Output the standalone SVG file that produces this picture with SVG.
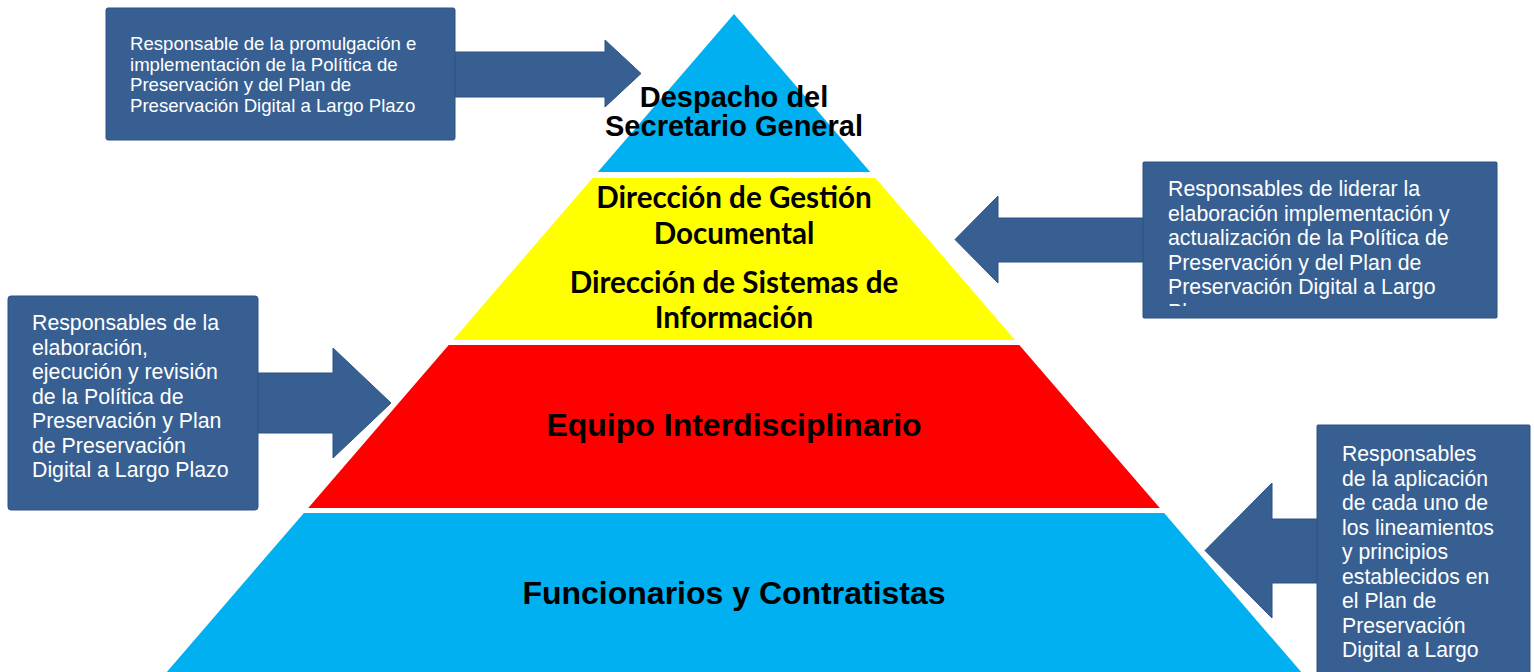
<svg xmlns="http://www.w3.org/2000/svg" width="1534" height="672" viewBox="0 0 1534 672">
  <defs>
    <style>
      .box { fill: #375f92; stroke: #2f5383; stroke-width: 1; }
      .arrow { fill: #375f92; stroke: #2f5383; stroke-width: 1; }
      .btxt { font-family: "Liberation Sans", Arial, sans-serif; fill: #ffffff; }
      .ptxt { font-family: "Liberation Sans", Arial, sans-serif; font-weight: bold; fill: #000000; text-anchor: middle; }
      .ytxt { font-family: Lato, "Liberation Sans", sans-serif; font-weight: bold; fill: #000000; text-anchor: middle; }
    </style>
    <clipPath id="clipRU">
      <rect x="1143" y="162" width="354" height="144"/>
    </clipPath>
  </defs>

  <rect width="1534" height="672" fill="#ffffff"/>

  <!-- Pyramid -->
  <g id="level-despacho">
    <polygon points="734,14 870.2,172 597.8,172" fill="#00b0f0"/>
    <text class="ptxt" x="734" y="107" font-size="29">Despacho del</text>
    <text class="ptxt" x="734" y="136" font-size="29">Secretario General</text>
  </g>
  <g id="level-direcciones">
    <polygon points="592.6,178 875.4,178 1015,340 453,340" fill="#ffff00"/>
    <text class="ytxt" x="734" y="208" font-size="29.6">Dirección de Gestión</text>
    <text class="ytxt" x="734" y="244" font-size="29.6">Documental</text>
    <text class="ytxt" x="734" y="293" font-size="29.6">Dirección de Sistemas de</text>
    <text class="ytxt" x="734" y="328" font-size="29.6">Información</text>
  </g>
  <g id="level-equipo">
    <polygon points="448.7,345 1019.3,345 1159.8,508 308.2,508" fill="#ff0000"/>
    <text class="ptxt" x="734" y="436" font-size="32">Equipo Interdisciplinario</text>
  </g>
  <g id="level-funcionarios">
    <polygon points="303.9,513 1164.1,513 1301.2,672 166.8,672" fill="#00b0f0"/>
    <text class="ptxt" x="734" y="604" font-size="32">Funcionarios y Contratistas</text>
  </g>

  <!-- Connectors (block arrows) -->
  <g id="connectors">
    <polygon class="arrow" points="440,52 605,52 605,40 641,73.5 605,107 605,97 440,97"/>
    <polygon class="arrow" points="1160,218 998,218 998,196 955,239.5 998,283 998,262 1160,262"/>
    <polygon class="arrow" points="240,373 333,373 333,348 391,403 333,458 333,433 240,433"/>
    <polygon class="arrow" points="1330,519 1272,519 1272,483 1205,550.5 1272,618 1272,583 1330,583"/>
  </g>

  <!-- Callout boxes -->
  <g id="callout-despacho">
    <rect class="box" x="106" y="8" width="349" height="132" rx="2"/>
    <text class="btxt" font-size="18.6">
      <tspan x="130" y="50">Responsable de la promulgación e</tspan>
      <tspan x="130" y="71">implementación de la Política de</tspan>
      <tspan x="130" y="91">Preservación y del Plan de</tspan>
      <tspan x="130" y="112">Preservación Digital a Largo Plazo</tspan>
    </text>
  </g>
  <g id="callout-direcciones">
    <rect class="box" x="1143" y="162" width="354" height="156" rx="1"/>
    <text class="btxt" font-size="21.3" clip-path="url(#clipRU)">
      <tspan x="1168" y="196">Responsables de liderar la</tspan>
      <tspan x="1168" y="220.5">elaboración implementación y</tspan>
      <tspan x="1168" y="245">actualización de la Política de</tspan>
      <tspan x="1168" y="269.5">Preservación y del Plan de</tspan>
      <tspan x="1168" y="294">Preservación Digital a Largo</tspan>
      <tspan x="1168" y="319">Plazo</tspan>
    </text>
  </g>
  <g id="callout-equipo">
    <rect class="box" x="8" y="296" width="250" height="214" rx="3"/>
    <text class="btxt" font-size="21.3">
      <tspan x="32" y="330">Responsables de la</tspan>
      <tspan x="32" y="355">elaboración,</tspan>
      <tspan x="32" y="379">ejecución y revisión</tspan>
      <tspan x="32" y="404">de la Política de</tspan>
      <tspan x="32" y="428">Preservación y Plan</tspan>
      <tspan x="32" y="453">de Preservación</tspan>
      <tspan x="32" y="477">Digital a Largo Plazo</tspan>
    </text>
  </g>
  <g id="callout-funcionarios">
    <rect class="box" x="1317" y="425" width="213" height="260" rx="1"/>
    <text class="btxt" font-size="21.2">
      <tspan x="1342" y="461">Responsables</tspan>
      <tspan x="1342" y="485.5">de la aplicación</tspan>
      <tspan x="1342" y="510">de cada uno de</tspan>
      <tspan x="1342" y="534.5">los lineamientos</tspan>
      <tspan x="1342" y="559">y principios</tspan>
      <tspan x="1342" y="583.5">establecidos en</tspan>
      <tspan x="1342" y="608">el Plan de</tspan>
      <tspan x="1342" y="632.5">Preservación</tspan>
      <tspan x="1342" y="657">Digital a Largo</tspan>
    </text>
  </g>
</svg>
